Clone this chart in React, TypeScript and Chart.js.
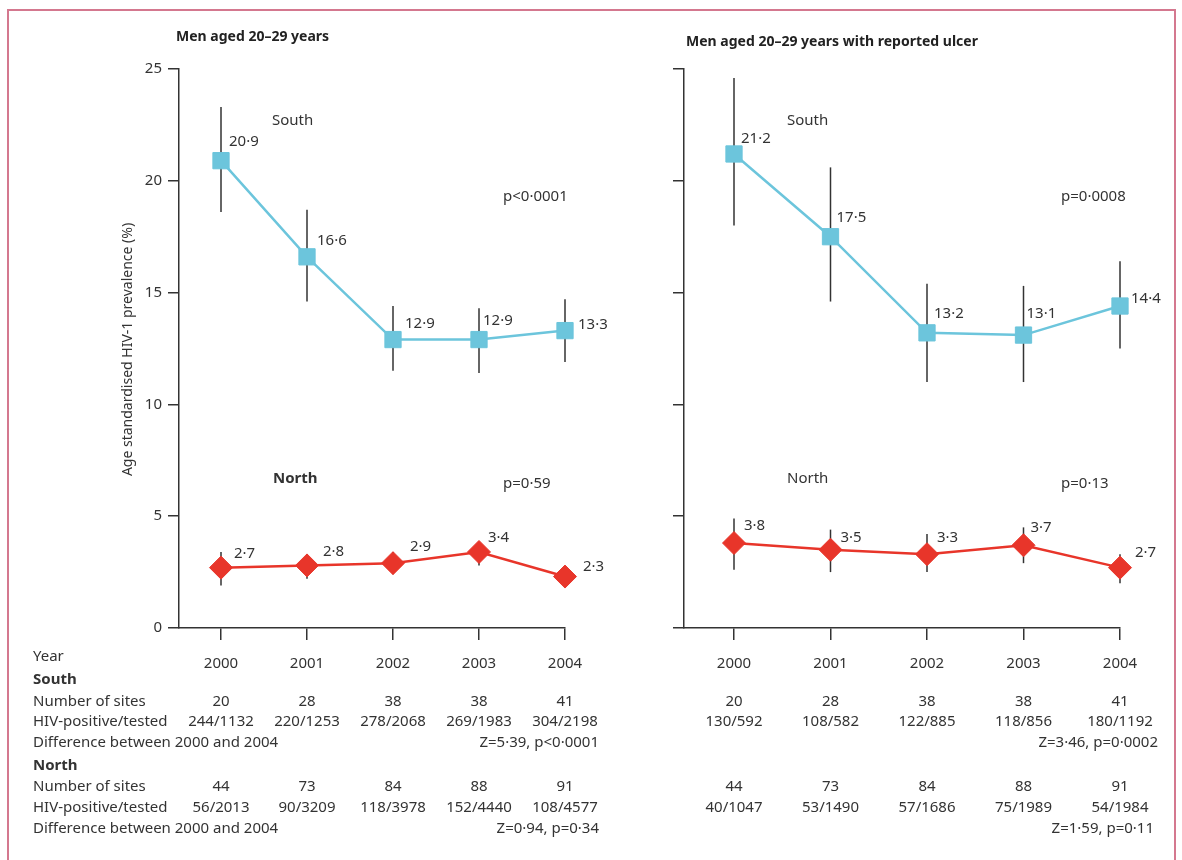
import React, { useEffect, useRef } from 'react';
import { Chart, registerables } from 'chart.js';
Chart.register(...registerables);

// ---------- data ----------
const years = [2000, 2001, 2002, 2003, 2004];
const yTicks = [0, 5, 10, 15, 20, 25];

// Panel A: men aged 20-29 years
const aSouth = [20.9, 16.6, 12.9, 12.9, 13.3];
const aSouthLow = [18.6, 14.6, 11.5, 11.4, 11.9];
const aSouthHigh = [23.3, 18.7, 14.4, 14.3, 14.7];
const aNorth = [2.7, 2.8, 2.9, 3.4, 2.3];
const aNorthLow = [1.9, 2.2, 2.4, 2.8, 2.1];
const aNorthHigh = [3.4, 3.3, 3.4, 3.8, 2.6];

// Panel B: men aged 20-29 years with reported ulcer
const bSouth = [21.2, 17.5, 13.2, 13.1, 14.4];
const bSouthLow = [18.0, 14.6, 11.0, 11.0, 12.5];
const bSouthHigh = [24.6, 20.6, 15.4, 15.3, 16.4];
const bNorth = [3.8, 3.5, 3.3, 3.7, 2.7];
const bNorthLow = [2.6, 2.5, 2.5, 2.9, 2.0];
const bNorthHigh = [4.9, 4.4, 4.2, 4.5, 3.3];

// Table below the panels
const aSouthSites = ['20', '28', '38', '38', '41'];
const aSouthTested = ['244/1132', '220/1253', '278/2068', '269/1983', '304/2198'];
const aSouthZ = 'Z=5·39, p<0·0001';
const aNorthSites = ['44', '73', '84', '88', '91'];
const aNorthTested = ['56/2013', '90/3209', '118/3978', '152/4440', '108/4577'];
const aNorthZ = 'Z=0·94, p=0·34';

const bSouthSites = ['20', '28', '38', '38', '41'];
const bSouthTested = ['130/592', '108/582', '122/885', '118/856', '180/1192'];
const bSouthZ = 'Z=3·46, p=0·0002';
const bNorthSites = ['44', '73', '84', '88', '91'];
const bNorthTested = ['40/1047', '53/1490', '57/1686', '75/1989', '54/1984'];
const bNorthZ = 'Z=1·59, p=0·11';

const rowLabels = ['Year', 'South', 'Number of sites', 'HIV-positive/tested', 'Difference between 2000 and 2004',
  'North', 'Number of sites', 'HIV-positive/tested', 'Difference between 2000 and 2004'];

// ---------- layout / style ----------
const W = 1182;
const H = 860;
const FONT = "'Noto Sans', sans-serif";
const INK = '#333333';
const CYAN = '#6cc5dc';
const RED = '#e8352a';
const PLOT_TOP = 69;
const PLOT_BOTTOM = 628;
const Y_W = 60;
const X_H = 50;
const FS = 15;
// row baselines (page y, text middle)
const rowY = [657, 680, 702, 722, 743, 766, 787, 808, 829];
const rowBold = [false, true, false, false, false, true, false, false, false];

const fmt = (v: number) => v.toFixed(1).replace('.', '\u00B7');

type Nudge = [number, number];

interface PanelDef {
  key: string;
  canvasLeft: number;
  canvasW: number;
  axisX: number;
  firstX: number;
  lastX: number;
  showYLabels: boolean;
  title: string;
  titleX: number;
  titleY: number;
  south: number[]; southLow: number[]; southHigh: number[];
  north: number[]; northLow: number[]; northHigh: number[];
  southNudge: Nudge[]; northNudge: Nudge[];
  notes: { text: string; x: number; y: number; bold?: boolean }[];
  southSites: string[]; southTested: string[]; southZ: string;
  northSites: string[]; northTested: string[]; northZ: string;
  zRight: number[];
  rowLabels: boolean;
}

const panels: PanelDef[] = [
  {
    key: 'a', canvasLeft: 0, canvasW: 640, axisX: 179, firstX: 221, lastX: 565, showYLabels: true,
    title: 'Men aged 20\u201329 years', titleX: 176, titleY: 37,
    south: aSouth, southLow: aSouthLow, southHigh: aSouthHigh,
    north: aNorth, northLow: aNorthLow, northHigh: aNorthHigh,
    southNudge: [[8, -19], [10, -16], [12, -16], [4, -19], [13, -6]],
    northNudge: [[13, -14], [16, -14], [17, -16], [9, -14], [18, -10]],
    notes: [
      { text: 'South', x: 272, y: 121 },
      { text: 'p<0\u00B70001', x: 503, y: 197 },
      { text: 'North', x: 273, y: 479, bold: true },
      { text: 'p=0\u00B759', x: 503, y: 484 },
    ],
    southSites: aSouthSites, southTested: aSouthTested, southZ: aSouthZ,
    northSites: aNorthSites, northTested: aNorthTested, northZ: aNorthZ,
    zRight: [599, 599],
    rowLabels: true,
  },
  {
    key: 'b', canvasLeft: 600, canvasW: 582, axisX: 684, firstX: 734, lastX: 1120, showYLabels: false,
    title: 'Men aged 20\u201329 years with reported ulcer', titleX: 686, titleY: 42,
    south: bSouth, southLow: bSouthLow, southHigh: bSouthHigh,
    north: bNorth, northLow: bNorthLow, northHigh: bNorthHigh,
    southNudge: [[7, -15], [6, -19], [7, -19], [3, -21], [11, -7]],
    northNudge: [[10, -17], [10, -12], [10, -16], [7, -18], [15, -15]],
    notes: [
      { text: 'South', x: 787, y: 121 },
      { text: 'p=0\u00B70008', x: 1061, y: 197 },
      { text: 'North', x: 787, y: 479 },
      { text: 'p=0\u00B713', x: 1061, y: 484 },
    ],
    southSites: bSouthSites, southTested: bSouthTested, southZ: bSouthZ,
    northSites: bNorthSites, northTested: bNorthTested, northZ: bNorthZ,
    zRight: [1158, 1154],
    rowLabels: false,
  },
];

function makePlugin(p: PanelDef) {
  const L = (x: number) => x - p.canvasLeft;
  return {
    id: 'decor_' + p.key,
    beforeDatasetsDraw(chart: any) {
      const ctx = chart.ctx as CanvasRenderingContext2D;
      const xs = chart.scales.x;
      const ys = chart.scales.y;
      ctx.save();
      ctx.strokeStyle = INK;
      ctx.lineWidth = 1.5;
      const sets: [number[], number[]][] = [[p.southLow, p.southHigh], [p.northLow, p.northHigh]];
      sets.forEach(([lo, hi]) => {
        years.forEach((yr, i) => {
          const x = xs.getPixelForValue(yr);
          ctx.beginPath();
          ctx.moveTo(x, ys.getPixelForValue(lo[i]));
          ctx.lineTo(x, ys.getPixelForValue(hi[i]));
          ctx.stroke();
        });
      });
      ctx.restore();
    },
    afterDraw(chart: any) {
      const ctx = chart.ctx as CanvasRenderingContext2D;
      const xs = chart.scales.x;
      const ys = chart.scales.y;
      ctx.save();
      ctx.fillStyle = INK;
      ctx.textBaseline = 'middle';

      // value labels
      ctx.font = `${FS}px ${FONT}`;
      ctx.textAlign = 'left';
      const lab: [number[], Nudge[]][] = [[p.south, p.southNudge], [p.north, p.northNudge]];
      lab.forEach(([vals, nudge]) => {
        vals.forEach((v, i) => {
          const x = xs.getPixelForValue(years[i]);
          const y = ys.getPixelForValue(v);
          ctx.fillText(fmt(v), x + nudge[i][0], y + nudge[i][1]);
        });
      });

      // notes
      p.notes.forEach((n) => {
        ctx.font = `${n.bold ? 'bold ' : ''}${FS}px ${FONT}`;
        ctx.fillText(n.text, L(n.x), n.y);
      });

      // panel title
      ctx.font = `bold 14px ${FONT}`;
      ctx.fillStyle = '#222';
      ctx.fillText(p.title, L(p.titleX), p.titleY);
      ctx.fillStyle = INK;

      // y axis title
      if (p.showYLabels) {
        ctx.save();
        ctx.font = `14px ${FONT}`;
        ctx.translate(L(128), (PLOT_TOP + PLOT_BOTTOM) / 2 + 1);
        ctx.rotate(-Math.PI / 2);
        ctx.textAlign = 'center';
        ctx.fillText('Age standardised HIV-1 prevalence (%)', 0, 0);
        ctx.restore();
      }

      // table
      if (p.rowLabels) {
        rowLabels.forEach((t, i) => {
          ctx.font = `${rowBold[i] ? 'bold ' : ''}${FS}px ${FONT}`;
          ctx.textAlign = 'left';
          ctx.fillText(t, L(33), rowY[i]);
        });
      }
      ctx.font = `${FS}px ${FONT}`;
      ctx.textAlign = 'center';
      const cols: [string[], number][] = [
        [p.southSites, rowY[2]], [p.southTested, rowY[3]],
        [p.northSites, rowY[6]], [p.northTested, rowY[7]],
      ];
      cols.forEach(([vals, y]) => {
        vals.forEach((t, i) => ctx.fillText(t, xs.getPixelForValue(years[i]), y));
      });
      ctx.textAlign = 'right';
      ctx.fillText(p.southZ, L(p.zRight[0]), rowY[4]);
      ctx.fillText(p.northZ, L(p.zRight[1]), rowY[8]);
      ctx.restore();
    },
  };
}

function makeConfig(p: PanelDef): any {
  const spacing = (p.lastX - p.firstX) / (years.length - 1);
  const xMin = years[0] - (p.firstX - p.axisX) / spacing;
  const axisLocal = p.axisX - p.canvasLeft;
  const lastLocal = p.lastX - p.canvasLeft;
  const pointData = (vals: number[]) => vals.map((v, i) => ({ x: years[i], y: v }));
  return {
    type: 'line',
    data: {
      datasets: [
        {
          label: 'South', data: pointData(p.south), borderColor: CYAN, backgroundColor: CYAN,
          borderWidth: 2.5, pointStyle: 'rect', pointRadius: 11.5, pointHoverRadius: 11.5,
          pointBorderWidth: 1, pointBorderColor: CYAN, pointBackgroundColor: CYAN, tension: 0, clip: false,
        },
        {
          label: 'North', data: pointData(p.north), borderColor: RED, backgroundColor: RED,
          borderWidth: 2.5, pointStyle: 'rectRot', pointRadius: 11.5, pointHoverRadius: 11.5,
          pointBorderWidth: 1, pointBorderColor: RED, pointBackgroundColor: RED, tension: 0, clip: false,
        },
      ],
    },
    options: {
      animation: false,
      responsive: false,
      devicePixelRatio: 1,
      events: [],
      layout: {
        padding: {
          left: axisLocal - Y_W,
          right: p.canvasW - lastLocal,
          top: PLOT_TOP,
          bottom: H - PLOT_BOTTOM - X_H,
        },
      },
      plugins: { legend: { display: false }, tooltip: { enabled: false }, title: { display: false } },
      scales: {
        x: {
          type: 'linear', min: xMin, max: years[years.length - 1],
          afterBuildTicks: (s: any) => { s.ticks = years.map((v) => ({ value: v })); },
          afterFit: (s: any) => { s.height = X_H; },
          grid: { drawOnChartArea: false, drawTicks: true, tickLength: 12, color: INK, lineWidth: 1.5 },
          border: { display: true, color: INK, width: 1.5 },
          ticks: { color: INK, font: { family: FONT, size: FS }, padding: 15, maxRotation: 0, autoSkip: false,
            callback: (v: number) => String(v) },
        },
        y: {
          type: 'linear', min: 0, max: 25,
          afterBuildTicks: (s: any) => { s.ticks = yTicks.map((v) => ({ value: v })); },
          afterFit: (s: any) => { s.width = Y_W; },
          grid: { drawOnChartArea: false, drawTicks: true, tickLength: 11, color: INK, lineWidth: 1.5 },
          border: { display: true, color: INK, width: 1.5 },
          ticks: { color: p.showYLabels ? INK : 'rgba(0,0,0,0)', font: { family: FONT, size: FS }, padding: 6,
            callback: (v: number) => String(v) },
        },
      },
    },
    plugins: [makePlugin(p)],
  };
}

function Panel({ p }: { p: PanelDef }) {
  const ref = useRef<HTMLCanvasElement>(null);
  useEffect(() => {
    const chart = new Chart(ref.current as HTMLCanvasElement, makeConfig(p));
    return () => chart.destroy();
  }, [p]);
  return (
    <canvas
      ref={ref}
      width={p.canvasW}
      height={H}
      style={{ position: 'absolute', left: p.canvasLeft, top: 0, width: p.canvasW, height: H }}
    />
  );
}

export default function App() {
  return (
    <div style={{ position: 'fixed', left: 0, top: 0, width: W, height: H, background: '#fff', overflow: 'hidden' }}>
      <div
        style={{
          position: 'absolute', left: 7, top: 9, width: 1169, height: 900,
          border: '2px solid #d4788f', boxSizing: 'border-box',
        }}
      />
      {panels.map((p) => (
        <Panel key={p.key} p={p} />
      ))}
    </div>
  );
}
